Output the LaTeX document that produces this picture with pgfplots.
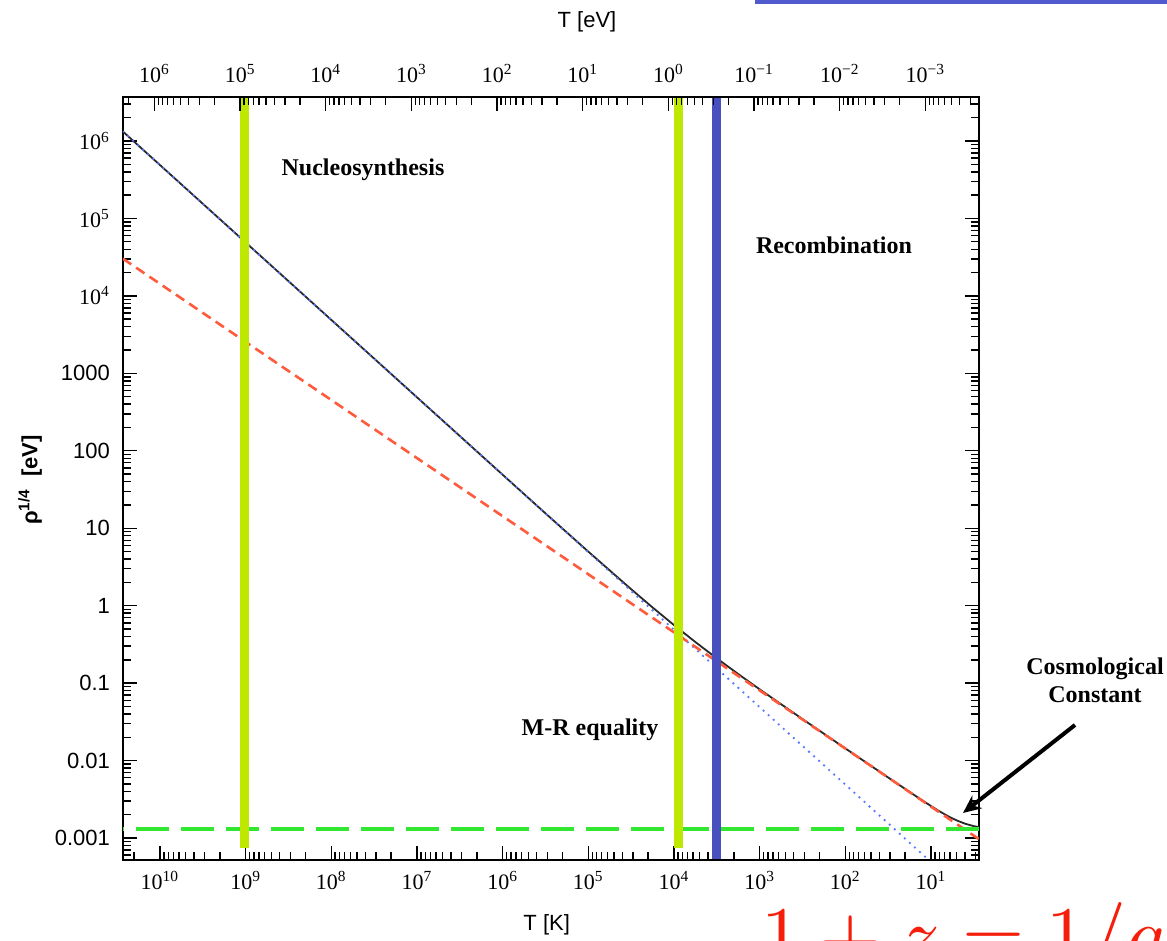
\documentclass[border=0pt]{standalone}
\usepackage{fontspec}
\setmainfont{Liberation Sans}
\newfontfamily\serif{Liberation Serif}
\usepackage{pgfplots}
\pgfplotsset{compat=1.18}
\usetikzlibrary{arrows.meta}

\definecolor{bbn}{RGB}{190,232,0}
\definecolor{recc}{RGB}{72,80,190}
\definecolor{lamc}{RGB}{50,230,50}
\definecolor{matc}{RGB}{255,90,60}
\definecolor{radc}{RGB}{90,120,255}
\definecolor{totc}{RGB}{40,40,40}
\definecolor{slideblue}{RGB}{80,90,205}
\definecolor{formred}{RGB}{245,30,10}

\newcommand\lbl{\fontsize{11}{13}\selectfont}
\newcommand\ann{\serif\bfseries\fontsize{12}{14}\selectfont}
\newcommand\pw[1]{{\serif 10\textsuperscript{#1}}}

\pgfplotsset{
  frame/.style={
    at={(61.5pt,40.5pt)}, anchor=south west,
    scale only axis, width=428pt, height=381.5pt,
    tick align=inside,
    major tick length=7pt, minor tick length=4pt,
    tick style={black, line width=0.7pt},
    axis line style={line width=1pt},
    tick label style={font=\lbl},
    label style={font=\lbl},
  },
}

\begin{document}
\begin{tikzpicture}
\useasboundingbox (0,0) rectangle (583.5pt,470.5pt);

% bits of the slide around the figure
\fill[slideblue] (377.5pt,468.5pt) rectangle (583.5pt,470.5pt);
\node[anchor=base west, text=formred, scale=4, inner sep=0]
  at (380pt,-11pt) {$1+z=1/a\simeq$};

% main axis: T in K
\begin{axis}[frame,
  xmode=log, ymode=log, x dir=reverse,
  xmin=2.75, xmax=2.70e10, ymin=5.2e-4, ymax=3.7e6,
  xtick pos=left, ytick pos=both,
  xtick={1e1,1e2,1e3,1e4,1e5,1e6,1e7,1e8,1e9,1e10},
  xticklabels={\pw{1},\pw{2},\pw{3},\pw{4},\pw{5},\pw{6},\pw{7},\pw{8},\pw{9},\pw{10}},
  minor xtick={3,4,5,6,7,8,9,
    2e1,3e1,4e1,5e1,6e1,7e1,8e1,9e1,
    2e2,3e2,4e2,5e2,6e2,7e2,8e2,9e2,
    2e3,3e3,4e3,5e3,6e3,7e3,8e3,9e3,
    2e4,3e4,4e4,5e4,6e4,7e4,8e4,9e4,
    2e5,3e5,4e5,5e5,6e5,7e5,8e5,9e5,
    2e6,3e6,4e6,5e6,6e6,7e6,8e6,9e6,
    2e7,3e7,4e7,5e7,6e7,7e7,8e7,9e7,
    2e8,3e8,4e8,5e8,6e8,7e8,8e8,9e8,
    2e9,3e9,4e9,5e9,6e9,7e9,8e9,9e9,
    2e10},
  ytick={1e-3,1e-2,1e-1,1,1e1,1e2,1e3,1e4,1e5,1e6},
  yticklabels={0.001,0.01,0.1,1,10,100,1000,\pw{4},\pw{5},\pw{6}},
  minor ytick={6e-4,7e-4,8e-4,9e-4,
    2e-3,3e-3,4e-3,5e-3,6e-3,7e-3,8e-3,9e-3,
    2e-2,3e-2,4e-2,5e-2,6e-2,7e-2,8e-2,9e-2,
    2e-1,3e-1,4e-1,5e-1,6e-1,7e-1,8e-1,9e-1,
    2,3,4,5,6,7,8,9,
    2e1,3e1,4e1,5e1,6e1,7e1,8e1,9e1,
    2e2,3e2,4e2,5e2,6e2,7e2,8e2,9e2,
    2e3,3e3,4e3,5e3,6e3,7e3,8e3,9e3,
    2e4,3e4,4e4,5e4,6e4,7e4,8e4,9e4,
    2e5,3e5,4e5,5e5,6e5,7e5,8e5,9e5,
    2e6,3e6},
  xticklabel style={yshift=-2pt},
  yticklabel style={xshift=-3pt},
  xlabel={T [K]},
  xlabel style={at={(axis description cs:0.495,-0.085)}, anchor=center},
  ylabel={\textbf{ρ\textsuperscript{1/4}\ \ [eV]}},
  ylabel style={at={(axis description cs:-0.1086,0.498)}, anchor=center},
]
% total
\addplot[totc, line width=0.9pt] coordinates {
  (2.704e10,1.324e6) (1e6,49.1) (3.162e5,15.57) (1e5,4.989) (3.162e4,1.632)
  (1.778e4,0.949) (1e4,0.5619) (5623,0.3392) (3162,0.2089) (1778,0.1310)
  (1000,0.0832) (316.2,0.03436) (100,0.01437) (31.62,6.053e-3) (15.85,3.614e-3)
  (10,2.588e-3) (7.943,2.210e-3) (6.310,1.910e-3) (5.012,1.686e-3)
  (3.981,1.528e-3) (3.162,1.423e-3) (2.75,1.384e-3)
};
% radiation
\addplot[radc, line width=1.3pt, line cap=round, dash pattern=on 0pt off 3.4pt]
  coordinates {(2.704e10,1.324e6) (7.943,3.89e-4)};
% matter
\addplot[matc, line width=1.3pt, dash pattern=on 5pt off 3pt]
  coordinates {(2.704e10,3.02e4) (2.75,9.66e-4)};
% cosmological constant
\addplot[lamc, line width=2pt, dash pattern=on 16.5pt off 6pt]
  coordinates {(2.75,1.29e-3) (2.704e10,1.29e-3)};
% epochs
\addplot[bbn, line width=4.6pt] coordinates {(1.035e9,7.34e-4) (1.035e9,3.7e6)};
\addplot[bbn, line width=4.6pt] coordinates {(8831,7.34e-4) (8831,3.7e6)};
\addplot[recc, line width=4.5pt] coordinates {(3177,5.2e-4) (3177,3.7e6)};
\end{axis}

% top axis: T in eV
\begin{axis}[frame,
  xmode=log, x dir=reverse,
  xmin=2.3698e-4, xmax=2.3301e6, ymin=0, ymax=1,
  hide y axis,
  xtick pos=right, xticklabel pos=right,
  xtick={1e-3,1e-2,1e-1,1,1e1,1e2,1e3,1e4,1e5,1e6},
  xticklabels={\pw{−3},\pw{−2},\pw{−1},\pw{0},\pw{1},\pw{2},\pw{3},\pw{4},\pw{5},\pw{6}},
  minor xtick={3e-4,4e-4,5e-4,6e-4,7e-4,8e-4,9e-4,
    2e-3,3e-3,4e-3,5e-3,6e-3,7e-3,8e-3,9e-3,
    2e-2,3e-2,4e-2,5e-2,6e-2,7e-2,8e-2,9e-2,
    2e-1,3e-1,4e-1,5e-1,6e-1,7e-1,8e-1,9e-1,
    2,3,4,5,6,7,8,9,
    2e1,3e1,4e1,5e1,6e1,7e1,8e1,9e1,
    2e2,3e2,4e2,5e2,6e2,7e2,8e2,9e2,
    2e3,3e3,4e3,5e3,6e3,7e3,8e3,9e3,
    2e4,3e4,4e4,5e4,6e4,7e4,8e4,9e4,
    2e5,3e5,4e5,5e5,6e5,7e5,8e5,9e5,
    2e6},
  xticklabel style={yshift=3.5pt},
  xlabel={T [eV]},
  xlabel style={at={(axis description cs:0.542,1.098)}, anchor=center},
]
\end{axis}

% annotations
\node[font=\ann] at (181.5pt,385.5pt) {Nucleosynthesis};
\node[font=\ann] at (417pt,348pt) {Recombination};
\node[font=\ann] at (295pt,105.5pt) {M-R equality};
\node[font=\ann, align=center, inner sep=0] at (547.5pt,130.5pt) {Cosmological\\Constant};
\draw[line width=2pt, -{Stealth[length=9pt,width=8pt]}] (537.5pt,108pt) -- (481.5pt,64pt);
\end{tikzpicture}
\end{document}
